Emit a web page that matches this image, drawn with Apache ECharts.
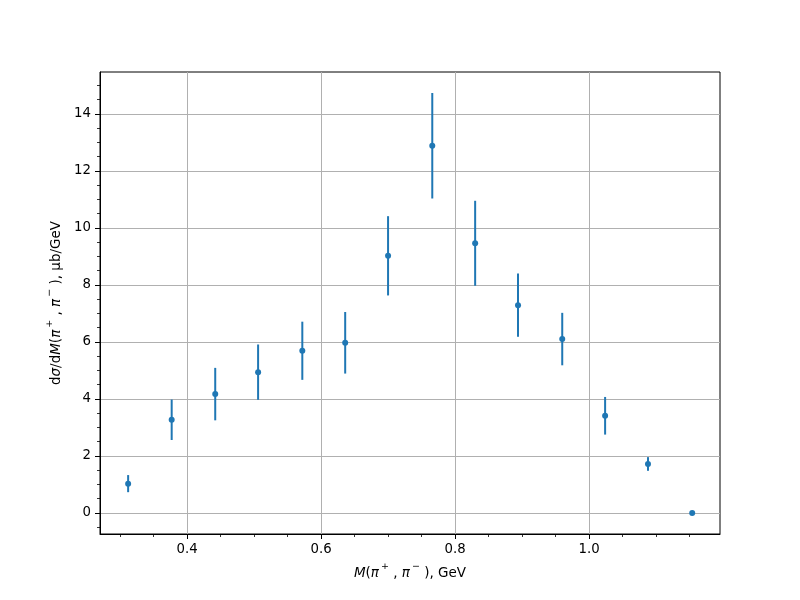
<!DOCTYPE html>
<html>
<head>
<meta charset="utf-8">
<script src="https://cdn.jsdelivr.net/npm/echarts@6/dist/echarts.min.js"></script>
<style>html,body{margin:0;padding:0;background:#fff}#c{width:800px;height:600px}</style>
</head>
<body>
<div id="c"></div>
<script>
const xValues = [0.312, 0.377, 0.442, 0.506, 0.572, 0.636, 0.700, 0.766, 0.830, 0.894, 0.960, 1.024, 1.088, 1.154];
const yValues = [1.03, 3.27, 4.17, 4.94, 5.69, 5.97, 9.02, 12.88, 9.46, 7.29, 6.10, 3.41, 1.72, 0.0];
const yErrors = [0.30, 0.71, 0.92, 0.97, 1.02, 1.08, 1.39, 1.85, 1.49, 1.11, 0.92, 0.66, 0.24, 0.0];
const xMajorTicks = [0.4, 0.6, 0.8, 1.0];
const xMinorTicks = [0.3, 0.35, 0.45, 0.5, 0.55, 0.65, 0.7, 0.75, 0.85, 0.9, 0.95, 1.05, 1.1, 1.15];
const yMajorTicks = [0, 2, 4, 6, 8, 10, 12, 14];
const yMinorTicks = [-0.5, 0.5, 1, 1.5, 2.5, 3, 3.5, 4.5, 5, 5.5, 6.5, 7, 7.5, 8.5, 9, 9.5, 10.5, 11, 11.5, 12.5, 13, 13.5, 14.5, 15];
const xRange = [0.270, 1.1955];
const yRange = [-0.7365, 15.4665];

const color = '#1f77b4';
const font = 'DejaVu Sans';
const points = xValues.map((x, i) => [x, yValues[i]]);
const errData = xValues.map((x, i) => [x, yValues[i] - yErrors[i], yValues[i] + yErrors[i]]);

const richStyles = {
  t: {fontFamily: font, fontSize: 13.5, color: '#000', verticalAlign: 'bottom', lineHeight: 20},
  i: {fontStyle: 'italic', fontFamily: font, fontSize: 13.5, color: '#000', verticalAlign: 'bottom', lineHeight: 20},
  s: {fontFamily: font, fontSize: 9.5, color: '#000', verticalAlign: 'top', lineHeight: 20, padding: [1, 0, 0, 2]}
};

const chart = echarts.init(document.getElementById('c'), null, {renderer: 'canvas'});
const baseX = {type: 'value', min: xRange[0], max: xRange[1], position: 'bottom'};
const baseY = {type: 'value', min: yRange[0], max: yRange[1], position: 'left'};
chart.setOption({
  animation: false,
  backgroundColor: '#fff',
  grid: {left: 100, top: 72, right: 80, bottom: 66, show: true, borderColor: '#000', borderWidth: 1, backgroundColor: 'transparent'},
  xAxis: [
    Object.assign({}, baseX, {
      axisLine: {show: true, onZero: false, lineStyle: {color: '#000', width: 1}},
      axisTick: {show: true, inside: false, length: 5, customValues: xMajorTicks, lineStyle: {color: '#000', width: 1}},
      axisLabel: {show: true, customValues: xMajorTicks, margin: 9, color: '#000', fontFamily: font, fontSize: 13.3,
        formatter: v => v.toFixed(1)},
      splitLine: {show: true, lineStyle: {color: '#b0b0b0', width: 1}},
      name: '{i|M}{t|(}{i|π}{s|+}{t| , }{i|π}{s|−}{t| ), GeV}',
      nameLocation: 'middle', nameGap: 26,
      nameTextStyle: {color: '#000', fontFamily: font, fontSize: 13.5, rich: richStyles}
    }),
    Object.assign({}, baseX, {
      axisLine: {show: false, onZero: false},
      axisTick: {show: true, inside: false, length: 3, customValues: xMinorTicks, lineStyle: {color: '#000', width: 0.8}},
      axisLabel: {show: false},
      splitLine: {show: false}
    })
  ],
  yAxis: [
    Object.assign({}, baseY, {
      axisLine: {show: true, onZero: false, lineStyle: {color: '#000', width: 1}},
      axisTick: {show: true, inside: false, length: 5, customValues: yMajorTicks, lineStyle: {color: '#000', width: 1}},
      axisLabel: {show: true, customValues: yMajorTicks, margin: 9, color: '#000', fontFamily: font, fontSize: 13.3},
      splitLine: {show: true, lineStyle: {color: '#b0b0b0', width: 1}},
      name: '{t|d}{i|σ}{t|/d}{i|M}{t|(}{i|π}{s|+}{t| , }{i|π}{s|−}{t| ), μb/GeV}',
      nameLocation: 'middle', nameGap: 36, nameRotate: 90,
      nameTextStyle: {color: '#000', fontFamily: font, fontSize: 13.5, rich: richStyles}
    }),
    Object.assign({}, baseY, {
      axisLine: {show: false, onZero: false},
      axisTick: {show: true, inside: false, length: 3, customValues: yMinorTicks, lineStyle: {color: '#000', width: 0.8}},
      axisLabel: {show: false},
      splitLine: {show: false}
    })
  ],
  series: [
    {
      type: 'custom',
      xAxisIndex: 0, yAxisIndex: 0,
      data: errData,
      encode: {x: 0, y: [1, 2]},
      z: 2,
      renderItem: function (params, api) {
        const x = api.value(0);
        const lo = api.coord([x, api.value(1)]);
        const hi = api.coord([x, api.value(2)]);
        return {type: 'line', shape: {x1: lo[0], y1: lo[1], x2: hi[0], y2: hi[1]},
          style: {stroke: color, lineWidth: 2}};
      }
    },
    {
      type: 'scatter',
      xAxisIndex: 0, yAxisIndex: 0,
      data: points,
      symbol: 'circle', symbolSize: 6,
      itemStyle: {color: color, opacity: 1},
      z: 3
    }
  ]
});
</script>
</body>
</html>
